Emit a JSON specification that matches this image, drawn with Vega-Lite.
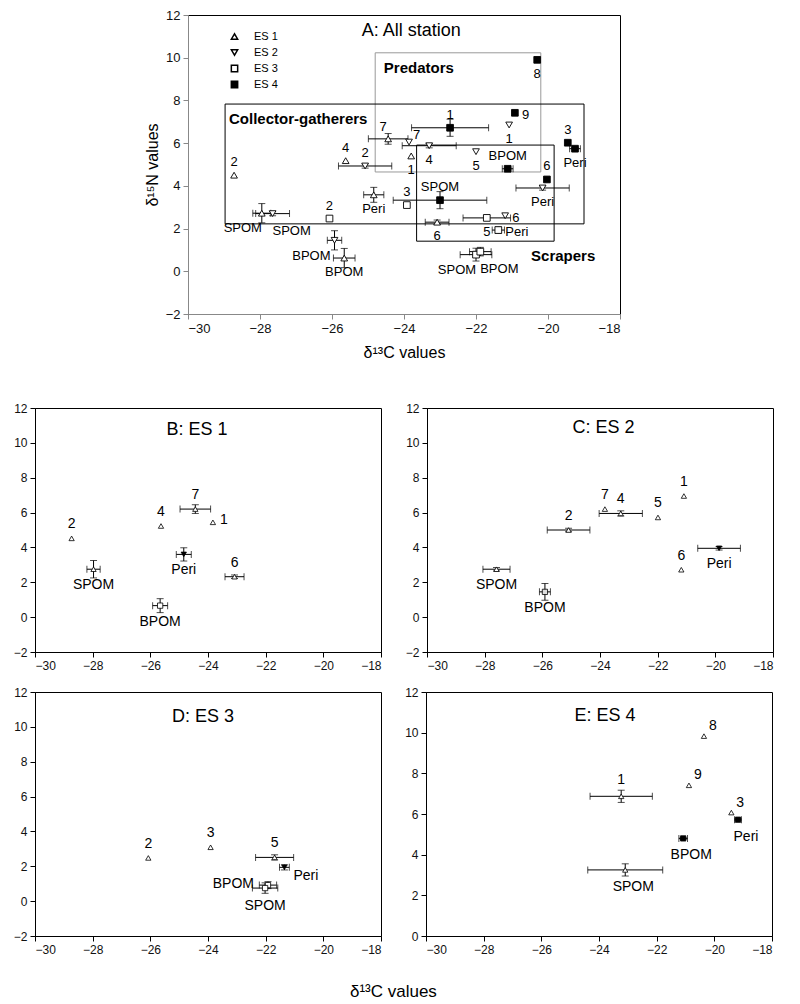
{
  "$schema": "https://vega.github.io/schema/vega-lite/v6.json",
  "padding": {"left": 12, "top": 8, "right": 5, "bottom": 4},
  "config": {
    "font": "Liberation Sans",
    "view": {"stroke": "black", "strokeWidth": 1},
    "axis": {"grid": false, "labelColor": "#111", "domainColor": "black", "tickColor": "black", "tickSize": 5, "labelPadding": 3},
    "text": {"font": "Liberation Sans", "color": "black", "baseline": "middle"}
  },
  "resolve": {"scale": {"shape": "independent", "fill": "independent", "stroke": "independent"}, "legend": {"shape": "independent", "fill": "independent", "stroke": "independent"}},
  "datasets": {
    "allst": [
      {"st": "ES 1", "lab": "2", "x": -28.72, "y": 4.5, "sx": 0, "sy": 0, "pos": "above"},
      {"st": "ES 1", "lab": "4", "x": -25.62, "y": 5.18, "sx": 0, "sy": 0, "pos": "above"},
      {"st": "ES 1", "lab": "7", "x": -24.44, "y": 6.2, "sx": 0.55, "sy": 0.25, "pos": "aboveleft"},
      {"st": "ES 1", "lab": "1", "x": -23.8, "y": 5.4, "sx": 0, "sy": 0, "pos": "below"},
      {"st": "ES 1", "lab": "SPOM", "x": -27.95, "y": 2.72, "sx": 0.25, "sy": 0.45, "pos": "belowleft"},
      {"st": "ES 1", "lab": "Peri", "x": -24.84, "y": 3.58, "sx": 0.28, "sy": 0.35, "pos": "below"},
      {"st": "ES 1", "lab": "6", "x": -23.08, "y": 2.3, "sx": 0.33, "sy": 0.1, "pos": "below"},
      {"st": "ES 1", "lab": "BPOM", "x": -25.66, "y": 0.62, "sx": 0.3, "sy": 0.45, "pos": "below"},
      {"st": "ES 2", "lab": "7", "x": -23.86, "y": 6.05, "sx": 0, "sy": 0, "pos": "aboveright"},
      {"st": "ES 2", "lab": "4", "x": -23.3, "y": 5.88, "sx": 0.75, "sy": 0.1, "pos": "below"},
      {"st": "ES 2", "lab": "2", "x": -25.08, "y": 4.93, "sx": 0.74, "sy": 0.1, "pos": "above"},
      {"st": "ES 2", "lab": "5", "x": -22.0, "y": 5.6, "sx": 0, "sy": 0, "pos": "below"},
      {"st": "ES 2", "lab": "1", "x": -21.08, "y": 6.85, "sx": 0, "sy": 0, "pos": "below"},
      {"st": "ES 2", "lab": "6", "x": -21.19, "y": 2.6, "sx": 0, "sy": 0, "pos": "right"},
      {"st": "ES 2", "lab": "Peri", "x": -20.15, "y": 3.9, "sx": 0.74, "sy": 0.1, "pos": "below"},
      {"st": "ES 2", "lab": "SPOM", "x": -27.65, "y": 2.7, "sx": 0.47, "sy": 0.1, "pos": "belowright"},
      {"st": "ES 2", "lab": "BPOM", "x": -25.93, "y": 1.45, "sx": 0.2, "sy": 0.45, "pos": "leftlow"},
      {"st": "ES 3", "lab": "2", "x": -26.07, "y": 2.47, "sx": 0, "sy": 0, "pos": "above"},
      {"st": "ES 3", "lab": "3", "x": -23.92, "y": 3.1, "sx": 0, "sy": 0, "pos": "above"},
      {"st": "ES 3", "lab": "5", "x": -21.7, "y": 2.5, "sx": 0.66, "sy": 0.1, "pos": "below"},
      {"st": "ES 3", "lab": "Peri", "x": -21.38, "y": 1.93, "sx": 0.17, "sy": 0.15, "pos": "right"},
      {"st": "ES 3", "lab": "SPOM", "x": -22.0, "y": 0.78, "sx": 0.44, "sy": 0.3, "pos": "belowleft"},
      {"st": "ES 3", "lab": "BPOM", "x": -21.88, "y": 0.92, "sx": 0.3, "sy": 0.2, "pos": "belowright"},
      {"st": "ES 4", "lab": "8", "x": -20.3, "y": 9.9, "sx": 0, "sy": 0, "pos": "below"},
      {"st": "ES 4", "lab": "9", "x": -20.92, "y": 7.42, "sx": 0, "sy": 0, "pos": "right"},
      {"st": "ES 4", "lab": "1", "x": -22.72, "y": 6.72, "sx": 1.07, "sy": 0.4, "pos": "above"},
      {"st": "ES 4", "lab": "3", "x": -19.45, "y": 6.02, "sx": 0, "sy": 0, "pos": "above"},
      {"st": "ES 4", "lab": "Peri", "x": -19.25, "y": 5.74, "sx": 0.15, "sy": 0.05, "pos": "below"},
      {"st": "ES 4", "lab": "BPOM", "x": -21.12, "y": 4.8, "sx": 0.15, "sy": 0.05, "pos": "above"},
      {"st": "ES 4", "lab": "6", "x": -20.03, "y": 4.3, "sx": 0, "sy": 0, "pos": "above"},
      {"st": "ES 4", "lab": "SPOM", "x": -23.0, "y": 3.33, "sx": 1.3, "sy": 0.4, "pos": "above"}
    ],
    "sub": [
      {"p": "B", "kind": "c", "lab": "2", "x": -28.73, "y": 4.52, "sx": 0, "sy": 0, "pos": "above"},
      {"p": "B", "kind": "SPOM", "lab": "SPOM", "x": -27.97, "y": 2.75, "sx": 0.23, "sy": 0.5, "pos": "below"},
      {"p": "B", "kind": "c", "lab": "4", "x": -25.63, "y": 5.23, "sx": 0, "sy": 0, "pos": "above"},
      {"p": "B", "kind": "c", "lab": "7", "x": -24.44, "y": 6.2, "sx": 0.53, "sy": 0.25, "pos": "above"},
      {"p": "B", "kind": "c", "lab": "1", "x": -23.83, "y": 5.44, "sx": 0, "sy": 0, "pos": "right"},
      {"p": "B", "kind": "Peri", "lab": "Peri", "x": -24.84, "y": 3.6, "sx": 0.26, "sy": 0.38, "pos": "below"},
      {"p": "B", "kind": "c", "lab": "6", "x": -23.08, "y": 2.32, "sx": 0.33, "sy": 0.1, "pos": "above"},
      {"p": "B", "kind": "BPOM", "lab": "BPOM", "x": -25.66, "y": 0.66, "sx": 0.26, "sy": 0.4, "pos": "below"},
      {"p": "C", "kind": "c", "lab": "2", "x": -25.09, "y": 5.0, "sx": 0.74, "sy": 0.1, "pos": "above"},
      {"p": "C", "kind": "c", "lab": "7", "x": -23.83, "y": 6.2, "sx": 0, "sy": 0, "pos": "above"},
      {"p": "C", "kind": "c", "lab": "4", "x": -23.28, "y": 5.95, "sx": 0.75, "sy": 0.15, "pos": "above"},
      {"p": "C", "kind": "c", "lab": "5", "x": -21.99, "y": 5.72, "sx": 0, "sy": 0, "pos": "above"},
      {"p": "C", "kind": "c", "lab": "1", "x": -21.09, "y": 6.95, "sx": 0, "sy": 0, "pos": "above"},
      {"p": "C", "kind": "c", "lab": "6", "x": -21.18, "y": 2.72, "sx": 0, "sy": 0, "pos": "above"},
      {"p": "C", "kind": "Peri", "lab": "Peri", "x": -19.87, "y": 3.95, "sx": 0.74, "sy": 0.1, "pos": "below"},
      {"p": "C", "kind": "SPOM", "lab": "SPOM", "x": -27.59, "y": 2.75, "sx": 0.47, "sy": 0.1, "pos": "below"},
      {"p": "C", "kind": "BPOM", "lab": "BPOM", "x": -25.91, "y": 1.45, "sx": 0.19, "sy": 0.48, "pos": "below"},
      {"p": "D", "kind": "c", "lab": "2", "x": -26.07, "y": 2.48, "sx": 0, "sy": 0, "pos": "above"},
      {"p": "D", "kind": "c", "lab": "3", "x": -23.91, "y": 3.09, "sx": 0, "sy": 0, "pos": "above"},
      {"p": "D", "kind": "c", "lab": "5", "x": -21.69, "y": 2.51, "sx": 0.66, "sy": 0.15, "pos": "above"},
      {"p": "D", "kind": "Peri", "lab": "Peri", "x": -21.35, "y": 1.94, "sx": 0.17, "sy": 0.15, "pos": "rightlow"},
      {"p": "D", "kind": "BPOM", "lab": "BPOM", "x": -21.92, "y": 0.92, "sx": 0.3, "sy": 0.2, "pos": "farleft"},
      {"p": "D", "kind": "SPOM", "lab": "SPOM", "x": -22.02, "y": 0.75, "sx": 0.44, "sy": 0.3, "pos": "below"},
      {"p": "E", "kind": "c", "lab": "8", "x": -20.36, "y": 9.83, "sx": 0, "sy": 0, "pos": "aboveright"},
      {"p": "E", "kind": "c", "lab": "9", "x": -20.88, "y": 7.41, "sx": 0, "sy": 0, "pos": "aboveright"},
      {"p": "E", "kind": "c", "lab": "1", "x": -23.23, "y": 6.87, "sx": 1.08, "sy": 0.3, "pos": "above"},
      {"p": "E", "kind": "c", "lab": "3", "x": -19.41, "y": 6.07, "sx": 0, "sy": 0, "pos": "aboveright"},
      {"p": "E", "kind": "Peri", "lab": "Peri", "x": -19.18, "y": 5.72, "sx": 0.12, "sy": 0.05, "pos": "below"},
      {"p": "E", "kind": "BPOM", "lab": "BPOM", "x": -21.08, "y": 4.8, "sx": 0.15, "sy": 0.05, "pos": "below"},
      {"p": "E", "kind": "SPOM", "lab": "SPOM", "x": -23.09, "y": 3.25, "sx": 1.3, "sy": 0.3, "pos": "below"}
    ],
    "titles": [
      {"p": "A", "txt": "A: All station", "x": -23.8, "y": 11.25},
      {"p": "B", "txt": "B: ES 1", "x": -24.38, "y": 10.74},
      {"p": "C", "txt": "C: ES 2", "x": -23.88, "y": 10.84},
      {"p": "D", "txt": "D: ES 3", "x": -24.17, "y": 10.58},
      {"p": "E", "txt": "E: ES 4", "x": -23.79, "y": 10.84}
    ],
    "boxes": [
      {"grp": "Predators", "x": -24.8, "x2": -20.2, "y": 10.23, "y2": 4.65},
      {"grp": "Collector-gatherers", "x": -28.97, "x2": -19.0, "y": 7.83, "y2": 2.22},
      {"grp": "Scrapers", "x": -23.65, "x2": -19.83, "y": 5.91, "y2": 1.41}
    ],
    "boxlabels": [
      {"txt": "Predators", "x": -24.56, "y": 9.52},
      {"txt": "Collector-gatherers", "x": -28.86, "y": 7.13},
      {"txt": "Scrapers", "x": -20.47, "y": 0.71}
    ]
  },
  "title": {"text": "δ¹³C values", "orient": "bottom", "anchor": "middle", "fontSize": 17, "fontWeight": "normal", "font": "Liberation Sans", "offset": 28},
  "center": true,
  "spacing": 40,
  "vconcat": [
    {
      "width": 432,
      "height": 299,
      "encoding": {
        "x": {"field": "x", "type": "quantitative", "scale": {"domain": [-30, -18], "nice": false, "zero": false},
              "axis": {"values": [-30, -28, -26, -24, -22, -20, -18], "title": "δ¹³C values", "titleFontSize": 16, "titleFontWeight": "normal", "labelFontSize": 13, "domainColor": "#888", "tickColor": "#888", "titlePadding": 9}},
        "y": {"field": "y", "type": "quantitative", "scale": {"domain": [-2, 12], "nice": false, "zero": false},
              "axis": {"values": [-2, 0, 2, 4, 6, 8, 10, 12], "title": "δ¹⁵N values", "titleFontSize": 16, "titleFontWeight": "normal", "labelFontSize": 13, "domainColor": "#888", "tickColor": "#888", "titlePadding": 5}}
      },
      "layer": [
        {"data": {"name": "boxes"}, "mark": {"type": "rect", "fill": null, "fillOpacity": 0, "strokeWidth": 1},
         "encoding": {"x2": {"field": "x2"}, "y2": {"field": "y2"},
                      "stroke": {"field": "grp", "type": "nominal", "scale": {"domain": ["Predators", "Collector-gatherers", "Scrapers"], "range": ["#999999", "#000000", "#000000"]}, "legend": null}}},
        {"data": {"name": "boxlabels"}, "mark": {"type": "text", "align": "left", "fontSize": 15, "fontWeight": "bold"}, "encoding": {"text": {"field": "txt"}}},
        {"data": {"name": "titles"}, "transform": [{"filter": "datum.p == 'A'"}], "mark": {"type": "text", "fontSize": 18}, "encoding": {"text": {"field": "txt"}}},
        {"data": {"name": "allst"}, "transform": [{"filter": "datum.sx > 0"}], "mark": {"type": "errorbar", "orient": "horizontal", "ticks": {"size": 7}, "color": "black", "thickness": 1}, "encoding": {"xError": {"field": "sx"}}},
        {"data": {"name": "allst"}, "transform": [{"filter": "datum.sy > 0"}], "mark": {"type": "errorbar", "orient": "vertical", "ticks": {"size": 7}, "color": "black", "thickness": 1}, "encoding": {"yError": {"field": "sy"}}},
        {"data": {"name": "allst"}, "mark": {"type": "point", "filled": true, "stroke": "black", "strokeWidth": 0.9, "size": 45, "opacity": 1},
         "encoding": {
           "shape": {"field": "st", "type": "nominal", "scale": {"domain": ["ES 1", "ES 2", "ES 3", "ES 4"], "range": ["triangle-up", "triangle-down", "square", "square"]},
                     "legend": {"title": null, "orient": "none", "legendX": 41, "legendY": 16, "labelFontSize": 11, "symbolSize": 40, "rowPadding": 3, "labelOffset": 14,
                                "encode": {"symbols": {"update": {"stroke": {"value": "black"}, "strokeWidth": {"value": 1}}}}}},
           "fill": {"field": "st", "type": "nominal", "scale": {"domain": ["ES 1", "ES 2", "ES 3", "ES 4"], "range": ["white", "white", "white", "black"]},
                    "legend": {"title": null, "orient": "none", "legendX": 41, "legendY": 16, "labelFontSize": 11, "symbolSize": 40, "rowPadding": 3, "labelOffset": 14,
                               "encode": {"symbols": {"update": {"stroke": {"value": "black"}, "strokeWidth": {"value": 1}}}}}}
         }},
        {"data": {"name": "allst"}, "transform": [{"filter": "datum.pos == 'above'"}], "mark": {"type": "text", "align": "center", "dy": -13, "fontSize": 13}, "encoding": {"text": {"field": "lab"}}},
        {"data": {"name": "allst"}, "transform": [{"filter": "datum.pos == 'below'"}], "mark": {"type": "text", "align": "center", "dy": 14, "fontSize": 13}, "encoding": {"text": {"field": "lab"}}},
        {"data": {"name": "allst"}, "transform": [{"filter": "datum.pos == 'leftlow'"}], "mark": {"type": "text", "align": "right", "dx": -4, "dy": 16, "fontSize": 13}, "encoding": {"text": {"field": "lab"}}},
        {"data": {"name": "allst"}, "transform": [{"filter": "datum.pos == 'right'"}], "mark": {"type": "text", "align": "left", "dx": 7, "dy": 2, "fontSize": 13}, "encoding": {"text": {"field": "lab"}}},
        {"data": {"name": "allst"}, "transform": [{"filter": "datum.pos == 'belowleft'"}], "mark": {"type": "text", "align": "center", "dx": -19, "dy": 15, "fontSize": 13}, "encoding": {"text": {"field": "lab"}}},
        {"data": {"name": "allst"}, "transform": [{"filter": "datum.pos == 'belowright'"}], "mark": {"type": "text", "align": "center", "dx": 19, "dy": 17, "fontSize": 13}, "encoding": {"text": {"field": "lab"}}},
        {"data": {"name": "allst"}, "transform": [{"filter": "datum.pos == 'aboveright'"}], "mark": {"type": "text", "align": "left", "dx": 4, "dy": -7, "fontSize": 13}, "encoding": {"text": {"field": "lab"}}},
        {"data": {"name": "allst"}, "transform": [{"filter": "datum.pos == 'aboveleft'"}], "mark": {"type": "text", "align": "center", "dx": -5, "dy": -12, "fontSize": 13}, "encoding": {"text": {"field": "lab"}}}
      ]
    },
    {
      "spacing": 13,
      "resolve": {"scale": {"shape": "independent", "fill": "independent"}, "legend": {"shape": "independent", "fill": "independent"}},
      "vconcat": [
        {
          "spacing": 22,
          "resolve": {"scale": {"shape": "independent", "fill": "independent"}, "legend": {"shape": "independent", "fill": "independent"}},
          "hconcat": [
            {
              "width": 346, "height": 244,
              "encoding": {
                "x": {"field": "x", "type": "quantitative", "scale": {"domain": [-30, -18], "nice": false, "zero": false}, "axis": {"values": [-30, -28, -26, -24, -22, -20, -18], "title": null, "labelFontSize": 12}},
                "y": {"field": "y", "type": "quantitative", "scale": {"domain": [-2, 12], "nice": false, "zero": false}, "axis": {"values": [-2, 0, 2, 4, 6, 8, 10, 12], "title": null, "labelFontSize": 12}}
              },
              "layer": [
                {"data": {"name": "titles"}, "transform": [{"filter": "datum.p == 'B'"}], "mark": {"type": "text", "fontSize": 18}, "encoding": {"text": {"field": "txt"}}},
                {"data": {"name": "sub"}, "transform": [{"filter": "datum.p == 'B' && datum.sx > 0"}], "mark": {"type": "errorbar", "orient": "horizontal", "ticks": {"size": 7}, "color": "black", "thickness": 1}, "encoding": {"xError": {"field": "sx"}}},
                {"data": {"name": "sub"}, "transform": [{"filter": "datum.p == 'B' && datum.sy > 0"}], "mark": {"type": "errorbar", "orient": "vertical", "ticks": {"size": 7}, "color": "black", "thickness": 1}, "encoding": {"yError": {"field": "sy"}}},
                {"data": {"name": "sub"}, "transform": [{"filter": "datum.p == 'B'"}], "mark": {"type": "point", "filled": true, "stroke": "black", "strokeWidth": 0.8, "size": 28, "opacity": 1},
                 "encoding": {
                   "shape": {"field": "kind", "type": "nominal", "scale": {"domain": ["c", "SPOM", "BPOM", "Peri"], "range": ["triangle-up", "triangle-up", "square", "triangle-down"]}, "legend": null},
                   "fill": {"field": "kind", "type": "nominal", "scale": {"domain": ["c", "SPOM", "BPOM", "Peri"], "range": ["white", "white", "white", "black"]}, "legend": null}
                 }},
                {"data": {"name": "sub"}, "transform": [{"filter": "datum.p == 'B' && datum.pos == 'above'"}], "mark": {"type": "text", "align": "center", "dy": -14, "fontSize": 14}, "encoding": {"text": {"field": "lab"}}},
                {"data": {"name": "sub"}, "transform": [{"filter": "datum.p == 'B' && datum.pos == 'below'"}], "mark": {"type": "text", "align": "center", "dy": 16, "fontSize": 14}, "encoding": {"text": {"field": "lab"}}},
                {"data": {"name": "sub"}, "transform": [{"filter": "datum.p == 'B' && datum.pos == 'right'"}], "mark": {"type": "text", "align": "left", "dx": 7, "dy": -2, "fontSize": 14}, "encoding": {"text": {"field": "lab"}}}
              ]
            },
            {
              "width": 346, "height": 244,
              "encoding": {
                "x": {"field": "x", "type": "quantitative", "scale": {"domain": [-30, -18], "nice": false, "zero": false}, "axis": {"values": [-30, -28, -26, -24, -22, -20, -18], "title": null, "labelFontSize": 12}},
                "y": {"field": "y", "type": "quantitative", "scale": {"domain": [-2, 12], "nice": false, "zero": false}, "axis": {"values": [-2, 0, 2, 4, 6, 8, 10, 12], "title": null, "labelFontSize": 12}}
              },
              "layer": [
                {"data": {"name": "titles"}, "transform": [{"filter": "datum.p == 'C'"}], "mark": {"type": "text", "fontSize": 18}, "encoding": {"text": {"field": "txt"}}},
                {"data": {"name": "sub"}, "transform": [{"filter": "datum.p == 'C' && datum.sx > 0"}], "mark": {"type": "errorbar", "orient": "horizontal", "ticks": {"size": 7}, "color": "black", "thickness": 1}, "encoding": {"xError": {"field": "sx"}}},
                {"data": {"name": "sub"}, "transform": [{"filter": "datum.p == 'C' && datum.sy > 0"}], "mark": {"type": "errorbar", "orient": "vertical", "ticks": {"size": 7}, "color": "black", "thickness": 1}, "encoding": {"yError": {"field": "sy"}}},
                {"data": {"name": "sub"}, "transform": [{"filter": "datum.p == 'C'"}], "mark": {"type": "point", "filled": true, "stroke": "black", "strokeWidth": 0.8, "size": 28, "opacity": 1},
                 "encoding": {
                   "shape": {"field": "kind", "type": "nominal", "scale": {"domain": ["c", "SPOM", "BPOM", "Peri"], "range": ["triangle-up", "triangle-up", "square", "triangle-down"]}, "legend": null},
                   "fill": {"field": "kind", "type": "nominal", "scale": {"domain": ["c", "SPOM", "BPOM", "Peri"], "range": ["white", "white", "#dddddd", "black"]}, "legend": null}
                 }},
                {"data": {"name": "sub"}, "transform": [{"filter": "datum.p == 'C' && datum.pos == 'above'"}], "mark": {"type": "text", "align": "center", "dy": -14, "fontSize": 14}, "encoding": {"text": {"field": "lab"}}},
                {"data": {"name": "sub"}, "transform": [{"filter": "datum.p == 'C' && datum.pos == 'below'"}], "mark": {"type": "text", "align": "center", "dy": 16, "fontSize": 14}, "encoding": {"text": {"field": "lab"}}}
              ]
            }
          ]
        },
        {
          "spacing": 22,
          "resolve": {"scale": {"shape": "independent", "fill": "independent"}, "legend": {"shape": "independent", "fill": "independent"}},
          "hconcat": [
            {
              "width": 346, "height": 244,
              "encoding": {
                "x": {"field": "x", "type": "quantitative", "scale": {"domain": [-30, -18], "nice": false, "zero": false}, "axis": {"values": [-30, -28, -26, -24, -22, -20, -18], "title": null, "labelFontSize": 12}},
                "y": {"field": "y", "type": "quantitative", "scale": {"domain": [-2, 12], "nice": false, "zero": false}, "axis": {"values": [-2, 0, 2, 4, 6, 8, 10, 12], "title": null, "labelFontSize": 12}}
              },
              "layer": [
                {"data": {"name": "titles"}, "transform": [{"filter": "datum.p == 'D'"}], "mark": {"type": "text", "fontSize": 18}, "encoding": {"text": {"field": "txt"}}},
                {"data": {"name": "sub"}, "transform": [{"filter": "datum.p == 'D' && datum.sx > 0"}], "mark": {"type": "errorbar", "orient": "horizontal", "ticks": {"size": 7}, "color": "black", "thickness": 1}, "encoding": {"xError": {"field": "sx"}}},
                {"data": {"name": "sub"}, "transform": [{"filter": "datum.p == 'D' && datum.sy > 0"}], "mark": {"type": "errorbar", "orient": "vertical", "ticks": {"size": 7}, "color": "black", "thickness": 1}, "encoding": {"yError": {"field": "sy"}}},
                {"data": {"name": "sub"}, "transform": [{"filter": "datum.p == 'D'"}], "mark": {"type": "point", "filled": true, "stroke": "black", "strokeWidth": 0.8, "size": 28, "opacity": 1},
                 "encoding": {
                   "shape": {"field": "kind", "type": "nominal", "scale": {"domain": ["c", "SPOM", "BPOM", "Peri"], "range": ["triangle-up", "square", "square", "triangle-down"]}, "legend": null},
                   "fill": {"field": "kind", "type": "nominal", "scale": {"domain": ["c", "SPOM", "BPOM", "Peri"], "range": ["white", "white", "white", "black"]}, "legend": null}
                 }},
                {"data": {"name": "sub"}, "transform": [{"filter": "datum.p == 'D' && datum.pos == 'above'"}], "mark": {"type": "text", "align": "center", "dy": -14, "fontSize": 14}, "encoding": {"text": {"field": "lab"}}},
                {"data": {"name": "sub"}, "transform": [{"filter": "datum.p == 'D' && datum.pos == 'below'"}], "mark": {"type": "text", "align": "center", "dy": 18, "fontSize": 14}, "encoding": {"text": {"field": "lab"}}},
                {"data": {"name": "sub"}, "transform": [{"filter": "datum.p == 'D' && datum.pos == 'rightlow'"}], "mark": {"type": "text", "align": "left", "dx": 9, "dy": 9, "fontSize": 14}, "encoding": {"text": {"field": "lab"}}},
                {"data": {"name": "sub"}, "transform": [{"filter": "datum.p == 'D' && datum.pos == 'farleft'"}], "mark": {"type": "text", "align": "right", "dx": -14, "dy": -1, "fontSize": 14}, "encoding": {"text": {"field": "lab"}}}
              ]
            },
            {
              "width": 346, "height": 244,
              "encoding": {
                "x": {"field": "x", "type": "quantitative", "scale": {"domain": [-30, -18], "nice": false, "zero": false}, "axis": {"values": [-30, -28, -26, -24, -22, -20, -18], "title": null, "labelFontSize": 12}},
                "y": {"field": "y", "type": "quantitative", "scale": {"domain": [0, 12], "nice": false, "zero": false}, "axis": {"values": [0, 2, 4, 6, 8, 10, 12], "title": null, "labelFontSize": 12}}
              },
              "layer": [
                {"data": {"name": "titles"}, "transform": [{"filter": "datum.p == 'E'"}], "mark": {"type": "text", "fontSize": 18}, "encoding": {"text": {"field": "txt"}}},
                {"data": {"name": "sub"}, "transform": [{"filter": "datum.p == 'E' && datum.sx > 0"}], "mark": {"type": "errorbar", "orient": "horizontal", "ticks": {"size": 7}, "color": "black", "thickness": 1}, "encoding": {"xError": {"field": "sx"}}},
                {"data": {"name": "sub"}, "transform": [{"filter": "datum.p == 'E' && datum.sy > 0"}], "mark": {"type": "errorbar", "orient": "vertical", "ticks": {"size": 7}, "color": "black", "thickness": 1}, "encoding": {"yError": {"field": "sy"}}},
                {"data": {"name": "sub"}, "transform": [{"filter": "datum.p == 'E'"}], "mark": {"type": "point", "filled": true, "stroke": "black", "strokeWidth": 0.8, "size": 28, "opacity": 1},
                 "encoding": {
                   "shape": {"field": "kind", "type": "nominal", "scale": {"domain": ["c", "SPOM", "BPOM", "Peri"], "range": ["triangle-up", "triangle-up", "square", "square"]}, "legend": null},
                   "fill": {"field": "kind", "type": "nominal", "scale": {"domain": ["c", "SPOM", "BPOM", "Peri"], "range": ["white", "white", "black", "black"]}, "legend": null}
                 }},
                {"data": {"name": "sub"}, "transform": [{"filter": "datum.p == 'E' && datum.pos == 'above'"}], "mark": {"type": "text", "align": "center", "dy": -16, "fontSize": 14}, "encoding": {"text": {"field": "lab"}}},
                {"data": {"name": "sub"}, "transform": [{"filter": "datum.p == 'E' && datum.pos == 'below'"}], "mark": {"type": "text", "align": "center", "dx": 8, "dy": 17, "fontSize": 14}, "encoding": {"text": {"field": "lab"}}},
                {"data": {"name": "sub"}, "transform": [{"filter": "datum.p == 'E' && datum.pos == 'aboveright'"}], "mark": {"type": "text", "align": "left", "dx": 5, "dy": -10, "fontSize": 14}, "encoding": {"text": {"field": "lab"}}}
              ]
            }
          ]
        }
      ]
    }
  ]
}
